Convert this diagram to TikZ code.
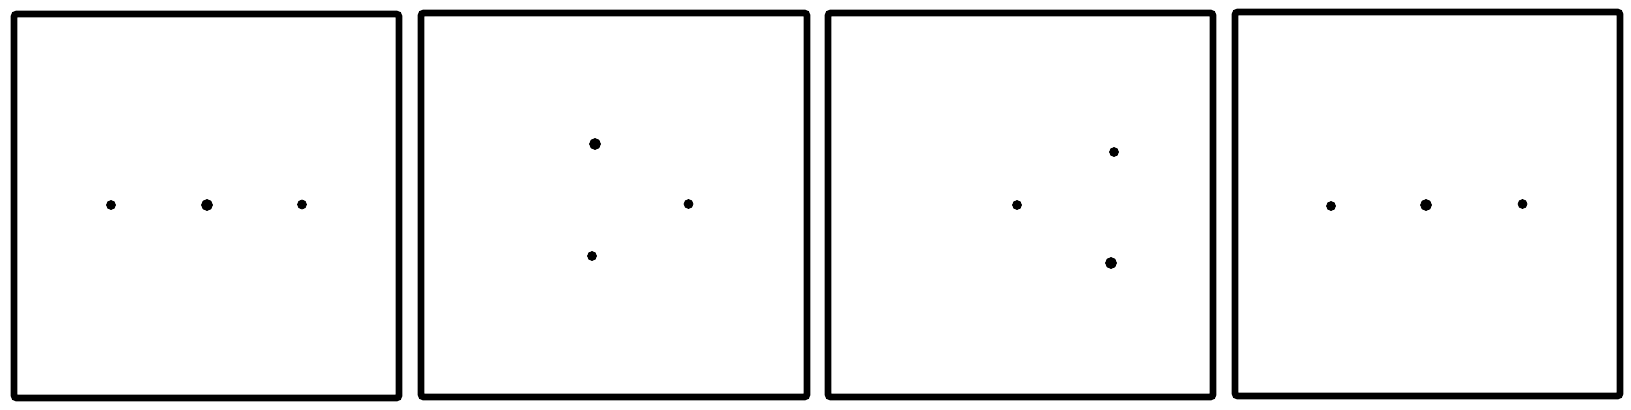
\documentclass[tikz,border=0pt]{standalone}
\usepackage{tikz}

\begin{document}
\begin{tikzpicture}[x=0.02cm, y=-0.02cm,
                    nodes={draw, circle, fill=black, inner sep=0, minimum size=0.18cm},
                    big/.style={minimum size=0.22cm},
                    panel/.style={line width=3.8pt, rounded corners=1.5pt}]
                \useasboundingbox (0,0) rectangle (1631,409);

                \draw [panel] (14,14) rectangle (399,398);
                \draw [panel] (421,13) rectangle (807,397);
                \draw [panel] (828,13) rectangle (1213,397);
                \draw [panel] (1235,12) rectangle (1620,396);

                \node (a1) at (111,205) {};
                \node (a2) [big] at (207,205) {};
                \node (a3) at (302,204.5) {};

                \node (b1) [big] at (595,144) {};
                \node (b2) at (688.5,204) {};
                \node (b3) at (592,256) {};

                \node (c1) at (1017,205) {};
                \node (c2) at (1114,152) {};
                \node (c3) [big] at (1111,263) {};

                \node (d1) at (1331,206) {};
                \node (d2) [big] at (1426,205) {};
                \node (d3) at (1522.5,204) {};
            \end{tikzpicture}
\end{document}
